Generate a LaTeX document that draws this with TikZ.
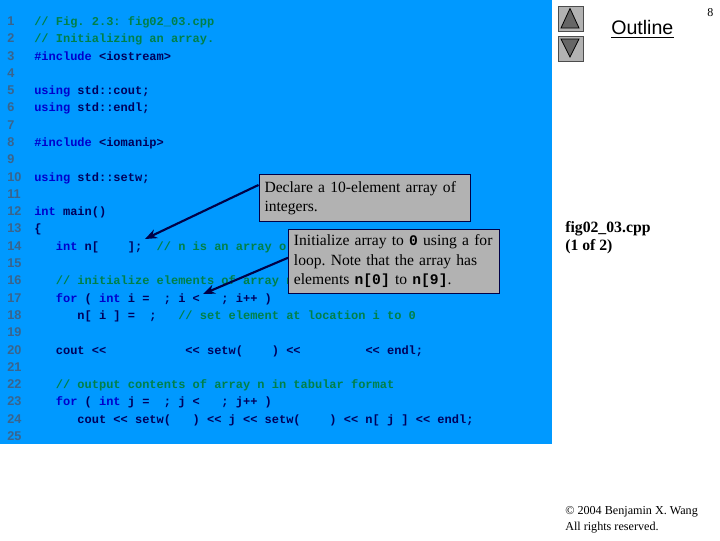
\documentclass[tikz,border=0pt]{standalone}
\usepackage{fontspec}
\setmainfont{Liberation Serif}
\setsansfont{Liberation Sans}
\setmonofont{Liberation Mono}
\usetikzlibrary{arrows.meta}
\definecolor{panel}{RGB}{0,153,255}
\definecolor{kwc}{RGB}{0,0,204}
\definecolor{cmc}{RGB}{0,128,72}
\definecolor{txc}{RGB}{0,0,90}
\definecolor{numc}{RGB}{58,100,140}
\definecolor{boxc}{RGB}{178,178,178}
\definecolor{linec}{RGB}{0,0,70}
\newcommand{\kwd}[1]{\textcolor{kwc}{#1}}
\newcommand{\cmt}[1]{\textcolor{cmc}{#1}}
\newcommand{\bm}[1]{{\fontsize{11}{11}\ttfamily\bfseries #1}}
\frenchspacing
\tikzset{
  x=0.75pt, y=-0.75pt,
  code/.style={anchor=base west, inner sep=0pt, text=txc, font=\fontsize{9}{9}\ttfamily\bfseries},
  lnum/.style={anchor=base west, inner sep=0pt, text=numc, font=\fontsize{9.5}{9.5}\sffamily\bfseries},
  callout/.style={anchor=north west, draw=linec, line width=0.7pt, fill=boxc, inner sep=0pt, align=left, text=black,
     font=\fontsize{11.7}{14.6}\selectfont},
  pointer/.style={draw=linec, line width=1.6pt, -{Stealth[length=9pt,width=7pt]}},
  navbtn/.style={draw=black!70, line width=0.6pt, fill=boxc, minimum size=18.75pt, inner sep=0pt, anchor=north west},
  navtri/.style={draw=black, line width=0.6pt, fill=black!60},
  plain/.style={anchor=base west, inner sep=0pt, text=black}
}
\begin{document}
\begin{tikzpicture}
\useasboundingbox (0,0) rectangle (720,540);
\fill[white] (0,0) rectangle (720,540);
\fill[panel] (0,0) rectangle (552,444);

\foreach \n in {1,...,25}{
  \node[lnum] (ln\n) at (7,{25.5+(\n-1)*17.29}) {\n};
}
\def\cy#1{({34},{25.5+(#1-1)*17.29})}
\node[code] (c1) at \cy{1} {\cmt{// Fig. 2.3: fig02\_03.cpp}};
\node[code] (c2) at \cy{2} {\cmt{// Initializing an array.}};
\node[code] (c3) at \cy{3} {\kwd{\#include} <iostream>};
\node[code] (c5) at \cy{5} {\kwd{using} std::cout;};
\node[code] (c6) at \cy{6} {\kwd{using} std::endl;};
\node[code] (c8) at \cy{8} {\kwd{\#include} <iomanip>};
\node[code] (c10) at \cy{10} {\kwd{using} std::setw;};
\node[code] (c12) at \cy{12} {\kwd{int} main()};
\node[code] (c13) at \cy{13} {\{};
\node[code] (c14) at \cy{14} {~~~\kwd{int} n[~~~~];~~\cmt{// n is an array o}};
\node[code] (c16) at \cy{16} {~~~\cmt{// initialize elements of array n}};
\node[code] (c17) at \cy{17} {~~~\kwd{for} ( \kwd{int} i = ~; i < ~~; i++ )};
\node[code] (c18) at \cy{18} {~~~~~~n[ i ] = ~;~~~\cmt{// set element at location i to 0}};
\node[code] (c20) at \cy{20} {~~~cout <<~~~~~~~~~~~<< setw(~~~~) <<~~~~~~~~~<< endl;};
\node[code] (c22) at \cy{22} {~~~\cmt{// output contents of array n in tabular format}};
\node[code] (c23) at \cy{23} {~~~\kwd{for} ( \kwd{int} j = ~; j < ~~; j++ )};
\node[code] (c24) at \cy{24} {~~~~~~cout << setw(~~~) << j << setw(~~~~) << n[ j ] << endl;};

\node[callout, minimum width=158.25pt, minimum height=35.25pt, text width=150pt, xshift=0.4pt] (box1) at (258,174)
  {\vphantom{Dg}Declare a 10-element array of\\integers.};
\node[callout, minimum width=158.25pt, minimum height=48pt, text width=150pt] (box2) at (288,229)
  {Initialize array to \bm{0} using a for\\loop. Note that the array has\\elements \bm{n[0]} to \bm{n[9]}.};

\coordinate (tip1) at (145,239);
\coordinate (tip2) at (203,294);
\draw[pointer] (box1.173) -- (tip1);
\draw[pointer] (box2.178) -- (tip2);

\node[navbtn] (up) at (558,6) {};
\node[navbtn] (down) at (558,36) {};
\draw[navtri] (570,8.5) -- (561,28) -- (579,28) -- cycle;
\draw[navtri] (561,39) -- (579,39) -- (570,57) -- cycle;

\node[anchor=base west, inner sep=0pt, text=black, font=\fontsize{14.7}{16}\sffamily] (outline) at (611,34) {Outline};
\draw[black, line width=1.1pt] (611,37.5) -- (674,37.5);
\node[plain, font=\fontsize{9}{10}\selectfont] (page) at (707,16) {8};
\node[plain, font=\fontsize{11.8}{14}\bfseries] (fname) at (565,232) {fig02\_03.cpp};
\node[plain, font=\fontsize{11.8}{14}\bfseries] (part) at (565,250) {(1 of 2)};
\node[plain, font=\fontsize{9.1}{10}\selectfont] (copy) at (565,514) {© 2004 Benjamin X. Wang};
\node[plain, font=\fontsize{9.1}{10}\selectfont] (rights) at (565,530) {All rights reserved.};
\end{tikzpicture}
\end{document}
